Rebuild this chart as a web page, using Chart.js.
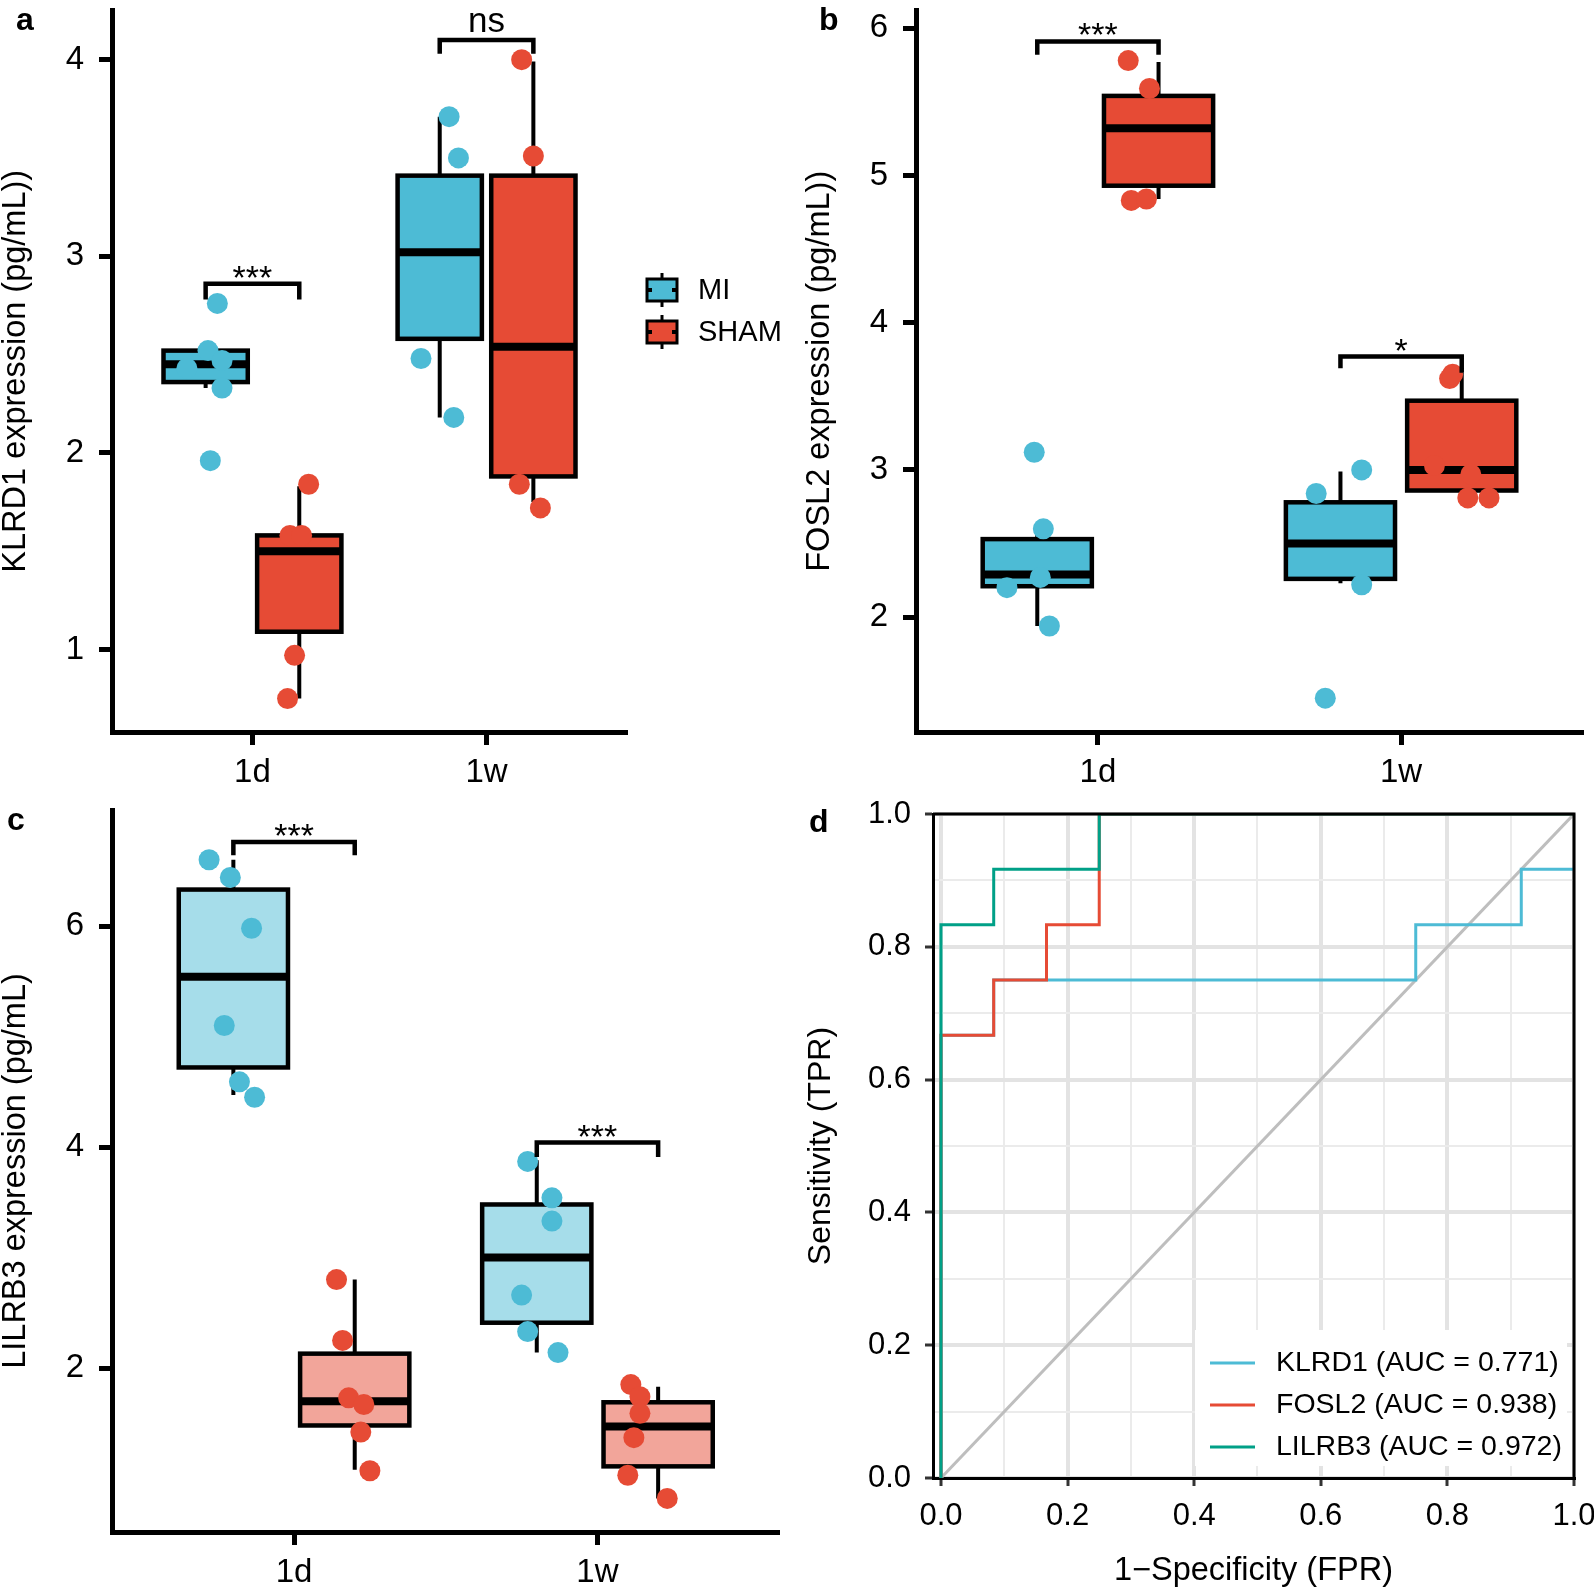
<!DOCTYPE html>
<html>
<head>
<meta charset="utf-8">
<title>KLRD1 / FOSL2 / LILRB3</title>
<script src="https://cdn.jsdelivr.net/npm/chart.js@4.4.1/dist/chart.umd.min.js"></script>
<style>
  html,body{margin:0;padding:0;background:#fff}
  #fig{position:relative;width:1594px;height:1590px;overflow:hidden}
  .pnl{position:absolute}
  .tag{position:absolute;font:bold 32px/32px "Liberation Sans",Arial,sans-serif;color:#000}
</style>
</head>
<body>
<div id="fig">
  <div class="pnl" style="left:0;top:0;width:790px;height:790px"><canvas id="pa"></canvas></div>
  <div class="pnl" style="left:790px;top:0;width:804px;height:790px"><canvas id="pb"></canvas></div>
  <div class="pnl" style="left:0;top:790px;width:790px;height:800px"><canvas id="pc"></canvas></div>
  <div class="pnl" style="left:790px;top:790px;width:804px;height:800px"><canvas id="pd"></canvas></div>
  <div class="tag" style="left:16px;top:3px">a</div>
  <div class="tag" style="left:819px;top:3px">b</div>
  <div class="tag" style="left:7px;top:803px">c</div>
  <div class="tag" style="left:809px;top:805px">d</div>
</div>
<script>
const FONT = '"Liberation Sans", Arial, sans-serif';
Chart.defaults.font.family = FONT;
Chart.defaults.font.size = 33;
Chart.defaults.color = '#000';

const groups = ['1d', '1w'];
const seriesNames = ['MI', 'SHAM'];
const seriesColors = ['#4DBBD5', '#E64B35'];
const lightFills = ['#A6DDEA', '#F2A59A'];

/* ─ a: KLRD1 ─  box stats = [whisker low, Q1, median, Q3, whisker high] for 1d, 1w */
const klrd1MiBox   = [[2.33, 2.36, 2.45, 2.52, 2.53], [2.18, 2.58, 3.02, 3.41, 3.71]];
const klrd1ShamBox = [[0.75, 1.09, 1.50, 1.58, 1.83], [1.75, 1.88, 2.54, 3.41, 3.99]];
const klrd1MiX   = [0.85, 0.81, 0.87, 0.72, 0.87, 0.82, 1.84, 1.88, 1.72, 1.86];
const klrd1MiY   = [2.76, 2.52, 2.47, 2.43, 2.33, 1.96, 3.71, 3.50, 2.48, 2.18];
const klrd1ShamX = [1.24, 1.16, 1.21, 1.18, 1.15, 2.15, 2.20, 2.14, 2.23];
const klrd1ShamY = [1.84, 1.58, 1.58, 0.97, 0.75, 4.00, 3.51, 1.84, 1.72];
const klrd1Sig = ['***', 'ns'];
const klrd1SigTop = [2.86, 4.10];
const klrd1SigEnd = [[2.78, 2.78], [4.03, 4.03]];

/* ─ b: FOSL2 ─ */
const fosl2MiBox   = [[1.94, 2.21, 2.29, 2.53, 2.60], [2.23, 2.26, 2.50, 2.78, 2.99]];
const fosl2ShamBox = [[4.84, 4.93, 5.32, 5.54, 5.77], [2.81, 2.86, 3.00, 3.47, 3.66]];
const fosl2MiX   = [0.79, 0.82, 0.81, 0.70, 0.84, 1.87, 1.72, 1.87, 1.75];
const fosl2MiY   = [3.12, 2.60, 2.27, 2.20, 1.94, 3.00, 2.84, 2.22, 1.45];
const fosl2ShamX = [1.10, 1.17, 1.11, 1.16, 2.16, 2.17, 2.11, 2.23, 2.22, 2.29];
const fosl2ShamY = [5.78, 5.59, 4.83, 4.84, 3.62, 3.65, 3.03, 2.97, 2.81, 2.81];
const fosl2Sig = ['***', '*'];
const fosl2SigTop = [5.91, 3.77];
const fosl2SigEnd = [[5.82, 5.82], [3.69, 3.66]];

/* ─ c: LILRB3 ─ */
const lilrb3MiBox   = [[4.47, 4.72, 5.54, 6.33, 6.60], [2.14, 2.41, 3.00, 3.48, 3.88]];
const lilrb3ShamBox = [[1.08, 1.48, 1.70, 2.13, 2.80], [0.82, 1.11, 1.47, 1.69, 1.83]];
const lilrb3MiX   = [0.72, 0.79, 0.86, 0.77, 0.82, 0.87, 1.77, 1.85, 1.85, 1.75, 1.77, 1.87];
const lilrb3MiY   = [6.60, 6.44, 5.98, 5.10, 4.59, 4.45, 3.87, 3.54, 3.33, 2.66, 2.33, 2.14];
const lilrb3ShamX = [1.14, 1.16, 1.18, 1.23, 1.22, 1.25, 2.11, 2.14, 2.14, 2.12, 2.10, 2.23];
const lilrb3ShamY = [2.80, 2.25, 1.73, 1.67, 1.42, 1.07, 1.85, 1.74, 1.59, 1.37, 1.03, 0.82];
const lilrb3Sig = ['***', '***'];
const lilrb3SigTop = [6.76, 4.04];
const lilrb3SigEnd = [[6.64, 6.64], [3.91, 3.91]];

/* ─ d: ROC ─ */
const rocNames  = ['KLRD1 (AUC = 0.771)', 'FOSL2 (AUC = 0.938)', 'LILRB3 (AUC = 0.972)'];
const rocColors = ['#4DBBD5', '#E64B35', '#00A087'];
const klrd1Fpr  = [0, 0, 0.0833, 0.0833, 0.75, 0.75, 0.9167, 0.9167, 1];
const klrd1Tpr  = [0, 0.6667, 0.6667, 0.75, 0.75, 0.8333, 0.8333, 0.9167, 0.9167];
const fosl2Fpr  = [0, 0, 0.0833, 0.0833, 0.1667, 0.1667, 0.25, 0.25, 1];
const fosl2Tpr  = [0, 0.6667, 0.6667, 0.75, 0.75, 0.8333, 0.8333, 1, 1];
const lilrb3Fpr = [0, 0, 0.0833, 0.0833, 0.25, 0.25, 1];
const lilrb3Tpr = [0, 0.8333, 0.8333, 0.9167, 0.9167, 1, 1];
const diagFpr = [0, 1];
const diagTpr = [0, 1];
const rocTicks = [0, 0.1, 0.2, 0.3, 0.4, 0.5, 0.6, 0.7, 0.8, 0.9, 1];

const pts = (xs, ys) => xs.map((x, i) => ({x, y: ys[i]}));
const noPad = s => { s.paddingTop = 0; s.paddingBottom = 0; s.paddingLeft = 0; s.paddingRight = 0; };

/* ─ boxes, brackets, legend ─ */
const boxPlugin = {
  id: 'boxes',
  beforeDatasetsDraw(chart, args, o) {
    const {ctx, scales: {x, y}} = chart;
    ctx.save();
    ctx.strokeStyle = '#000';
    o.boxes.forEach(b => b.stats.forEach((s, gi) => {
      const c = gi + 1 + b.dx;
      const xl = x.getPixelForValue(c - 0.18), xr = x.getPixelForValue(c + 0.18), xc = x.getPixelForValue(c);
      const [lo, q1, md, q3, hi] = s.map(v => y.getPixelForValue(v));
      ctx.lineWidth = 4;
      ctx.beginPath(); ctx.moveTo(xc, hi); ctx.lineTo(xc, q3); ctx.moveTo(xc, q1); ctx.lineTo(xc, lo); ctx.stroke();
      ctx.fillStyle = b.fill;
      ctx.fillRect(xl, q3, xr - xl, q1 - q3);
      ctx.lineWidth = 4.5;
      ctx.strokeRect(xl, q3, xr - xl, q1 - q3);
      ctx.lineWidth = 8;
      ctx.beginPath(); ctx.moveTo(xl, md); ctx.lineTo(xr, md); ctx.stroke();
    }));
    ctx.restore();
  },
  afterDatasetsDraw(chart, args, o) {
    const {ctx, scales: {x, y}} = chart;
    ctx.save();
    ctx.strokeStyle = '#000'; ctx.fillStyle = '#000';
    ctx.lineWidth = 4.5; ctx.lineJoin = 'miter';
    ctx.textAlign = 'center'; ctx.textBaseline = 'alphabetic';
    o.sig.forEach((lab, gi) => {
      const x1 = x.getPixelForValue(gi + 0.8), x2 = x.getPixelForValue(gi + 1.2);
      const yt = y.getPixelForValue(o.sigTop[gi]);
      ctx.beginPath();
      ctx.moveTo(x1, y.getPixelForValue(o.sigEnd[gi][0]));
      ctx.lineTo(x1, yt); ctx.lineTo(x2, yt);
      ctx.lineTo(x2, y.getPixelForValue(o.sigEnd[gi][1]));
      ctx.stroke();
      ctx.font = (lab === 'ns' ? '35px ' : '34px ') + FONT;
      ctx.fillText(lab, (x1 + x2) / 2, yt + (lab === 'ns' ? -8 : 5));
    });
    if (o.legend) {
      const L = o.legend;
      seriesNames.forEach((n, i) => {
        const cy = L.y[i], cx = L.x;
        ctx.lineWidth = 3;
        ctx.beginPath(); ctx.moveTo(cx, cy - 17); ctx.lineTo(cx, cy + 17); ctx.stroke();
        ctx.fillStyle = seriesColors[i];
        ctx.fillRect(cx - 15, cy - 11, 30, 22);
        ctx.strokeRect(cx - 15, cy - 11, 30, 22);
        ctx.lineWidth = 4;
        ctx.beginPath(); ctx.moveTo(cx - 15, cy); ctx.lineTo(cx - 10, cy); ctx.moveTo(cx + 10, cy); ctx.lineTo(cx + 15, cy); ctx.stroke();
        ctx.fillStyle = '#000';
        ctx.font = '29px ' + FONT;
        ctx.textAlign = 'left'; ctx.textBaseline = 'middle';
        ctx.fillText(n, L.textX, cy + 1);
      });
    }
    ctx.restore();
  }
};

function boxChart(id, c) {
  return new Chart(document.getElementById(id), {
    type: 'scatter',
    data: {
      datasets: [
        {label: 'MI', data: pts(c.miX, c.miY), backgroundColor: seriesColors[0], borderWidth: 0, pointRadius: 10.5},
        {label: 'SHAM', data: pts(c.shamX, c.shamY), backgroundColor: seriesColors[1], borderWidth: 0, pointRadius: 10.5}
      ]
    },
    options: {
      responsive: true, maintainAspectRatio: false, animation: false, events: [],
      layout: {padding: c.pad},
      plugins: {
        legend: {display: false}, tooltip: {enabled: false},
        boxes: {
          boxes: [{stats: c.miBox, dx: -0.2, fill: c.fills[0]}, {stats: c.shamBox, dx: 0.2, fill: c.fills[1]}],
          sig: c.sig, sigTop: c.sigTop, sigEnd: c.sigEnd, legend: c.legend
        }
      },
      scales: {
        x: {
          type: 'linear', min: 0.4, max: 2.6,
          afterBuildTicks: s => { s.ticks = [1, 2].map(v => ({value: v})); },
          afterFit: s => { s.height = c.xh; noPad(s); },
          ticks: {callback: v => groups[Math.round(v) - 1], font: {size: 33}, padding: 8, autoSkip: false, maxRotation: 0},
          grid: {drawOnChartArea: false, drawTicks: true, tickLength: 13, tickWidth: 5, tickColor: '#000'},
          border: {display: true, color: '#000', width: 5}
        },
        y: {
          type: 'linear', min: c.yMin, max: c.yMax,
          afterBuildTicks: s => { s.ticks = c.yTicks.map(v => ({value: v})); },
          afterFit: s => { s.width = c.yw; noPad(s); },
          ticks: {font: {size: 33}, padding: 15},
          grid: {drawOnChartArea: false, drawTicks: true, tickLength: 13, tickWidth: 5, tickColor: '#000'},
          border: {display: true, color: '#000', width: 5},
          title: {display: true, text: c.yTitle, font: {size: 32.5, lineHeight: 1}, padding: {top: c.tp, bottom: 0}}
        }
      }
    },
    plugins: [boxPlugin]
  });
}

boxChart('pa', {
  miX: klrd1MiX, miY: klrd1MiY, shamX: klrd1ShamX, shamY: klrd1ShamY,
  miBox: klrd1MiBox, shamBox: klrd1ShamBox, fills: seriesColors,
  sig: klrd1Sig, sigTop: klrd1SigTop, sigEnd: klrd1SigEnd,
  yMin: 0.58, yMax: 4.25, yTicks: [1, 2, 3, 4], yTitle: 'KLRD1 expression (pg/mL))',
  pad: {left: 0, top: 10, right: 163, bottom: 0}, yw: 112, xh: 58, tp: 0,
  legend: {x: 662, y: [290, 332], textX: 698}
});

boxChart('pb', {
  miX: fosl2MiX, miY: fosl2MiY, shamX: fosl2ShamX, shamY: fosl2ShamY,
  miBox: fosl2MiBox, shamBox: fosl2ShamBox, fills: seriesColors,
  sig: fosl2Sig, sigTop: fosl2SigTop, sigEnd: fosl2SigEnd,
  yMin: 1.22, yMax: 6.12, yTicks: [2, 3, 4, 5, 6], yTitle: 'FOSL2 expression (pg/mL))',
  pad: {left: 0, top: 10, right: 11, bottom: 0}, yw: 126, xh: 58, tp: 14
});

boxChart('pc', {
  miX: lilrb3MiX, miY: lilrb3MiY, shamX: lilrb3ShamX, shamY: lilrb3ShamY,
  miBox: lilrb3MiBox, shamBox: lilrb3ShamBox, fills: lightFills,
  sig: lilrb3Sig, sigTop: lilrb3SigTop, sigEnd: lilrb3SigEnd,
  yMin: 0.516, yMax: 7.05, yTicks: [2, 4, 6], yTitle: 'LILRB3 expression (pg/mL)',
  pad: {left: 0, top: 20, right: 10, bottom: 0}, yw: 112, xh: 58, tp: 0
});

/* ─ ROC ─ */
const rocPlugin = {
  id: 'rocDeco',
  afterDatasetsDraw(chart) {
    const {ctx, chartArea: a} = chart;
    ctx.save();
    ctx.strokeStyle = '#000'; ctx.lineWidth = 3;
    ctx.beginPath(); ctx.moveTo(a.left, a.top); ctx.lineTo(a.right, a.top); ctx.lineTo(a.right, a.bottom); ctx.stroke();
    ctx.fillStyle = '#fff';
    ctx.fillRect(a.left + 262, a.bottom - 148, 372, 136);
    ctx.font = '28.5px ' + FONT; ctx.textBaseline = 'middle'; ctx.textAlign = 'left';
    rocNames.forEach((n, i) => {
      const yy = a.bottom - 115 + i * 42;
      ctx.strokeStyle = rocColors[i]; ctx.lineWidth = 3;
      ctx.beginPath(); ctx.moveTo(a.left + 277, yy); ctx.lineTo(a.left + 322, yy); ctx.stroke();
      ctx.fillStyle = '#000';
      ctx.fillText(n, a.left + 343, yy);
    });
    ctx.restore();
  }
};

const rocLine = (xs, ys, color, order) => ({
  data: pts(xs, ys), showLine: true, borderColor: color, borderWidth: 3, pointRadius: 0, tension: 0, order
});
const gridMinor = c => c.index % 2 === 1;

new Chart(document.getElementById('pd'), {
  type: 'scatter',
  data: {
    datasets: [
      rocLine(diagFpr, diagTpr, '#BEBEBE', 4),
      rocLine(klrd1Fpr, klrd1Tpr, rocColors[0], 3),
      rocLine(fosl2Fpr, fosl2Tpr, rocColors[1], 2),
      rocLine(lilrb3Fpr, lilrb3Tpr, rocColors[2], 1)
    ]
  },
  options: {
    responsive: true, maintainAspectRatio: false, animation: false, events: [],
    layout: {padding: {left: 0, top: 24, right: 20, bottom: 0}},
    plugins: {legend: {display: false}, tooltip: {enabled: false}},
    scales: {
      x: {
        type: 'linear', min: -0.0126, max: 1,
        afterBuildTicks: s => { s.ticks = rocTicks.map(v => ({value: v})); },
        afterFit: s => { s.height = 112; noPad(s); },
        ticks: {callback: (v, i) => i % 2 ? '' : v.toFixed(1), font: {size: 31}, padding: 12, autoSkip: false, maxRotation: 0},
        grid: {
          color: c => gridMinor(c) ? '#EBEBEB' : '#E3E3E3', lineWidth: c => gridMinor(c) ? 2 : 4,
          tickLength: 8, tickWidth: 3, tickColor: c => gridMinor(c) ? 'rgba(0,0,0,0)' : '#333'
        },
        border: {display: true, color: '#000', width: 3},
        title: {display: true, text: '1−Specificity (FPR)', font: {size: 32.5, lineHeight: 1}, padding: {top: 0, bottom: 3}}
      },
      y: {
        type: 'linear', min: 0, max: 1,
        afterBuildTicks: s => { s.ticks = rocTicks.map(v => ({value: v})); },
        afterFit: s => { s.width = 143; noPad(s); },
        ticks: {callback: (v, i) => i % 2 ? '' : v.toFixed(1), font: {size: 31}, padding: 14, autoSkip: false},
        grid: {
          color: c => gridMinor(c) ? '#EBEBEB' : '#E3E3E3', lineWidth: c => gridMinor(c) ? 2 : 4,
          tickLength: 8, tickWidth: 3, tickColor: c => gridMinor(c) ? 'rgba(0,0,0,0)' : '#333'
        },
        border: {display: true, color: '#000', width: 3},
        title: {display: true, text: 'Sensitivity (TPR)', font: {size: 32, lineHeight: 1}, padding: {top: 15, bottom: 0}}
      }
    }
  },
  plugins: [rocPlugin]
});
</script>
</body>
</html>
